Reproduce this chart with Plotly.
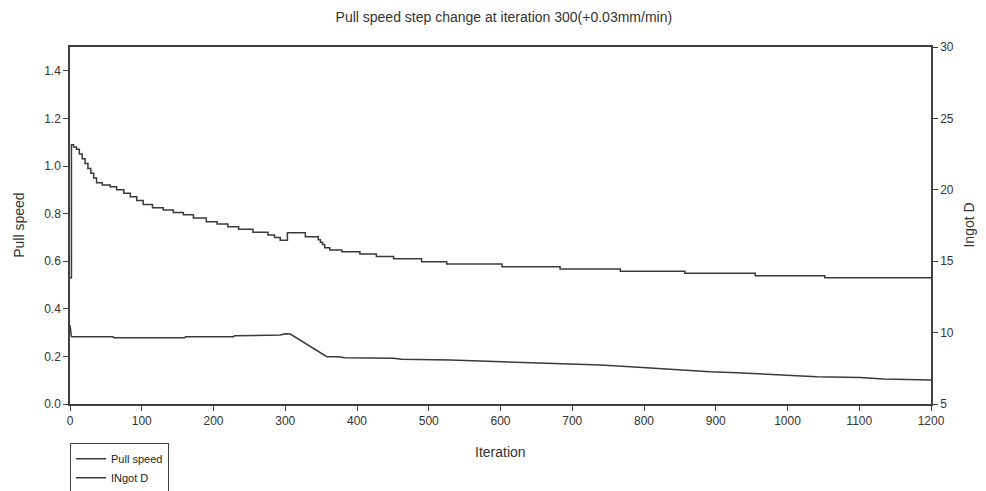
import plotly.graph_objects as go

# Pull speed (left axis), stepwise
pull_iter = [0, 2, 5, 9, 13, 17, 21, 25, 29, 33, 37, 45, 56, 65, 75, 84, 93, 102, 115, 130,
             144, 158, 172, 190, 205, 220, 235, 255, 276, 285, 293, 303, 328, 346, 349, 352,
             355, 362, 379, 404, 427, 451, 490, 525, 602, 683, 767, 857, 955, 1052, 1200]
pull_vals = [0.53, 1.089, 1.08, 1.07, 1.05, 1.03, 1.01, 0.99, 0.97, 0.95, 0.93, 0.92, 0.913,
             0.90, 0.885, 0.871, 0.855, 0.838, 0.825, 0.815, 0.805, 0.795, 0.782, 0.766, 0.756,
             0.745, 0.734, 0.722, 0.71, 0.70, 0.688, 0.72, 0.703, 0.69, 0.68, 0.67, 0.656,
             0.647, 0.64, 0.63, 0.62, 0.61, 0.598, 0.588, 0.577, 0.567, 0.558, 0.549, 0.539,
             0.53, 0.53]

# Ingot D (right axis)
ingot_iter = [0, 2, 60, 61, 160, 161, 228, 229, 293, 300, 307, 358, 374, 383, 451, 462, 530,
              600, 670, 739, 781, 813, 855, 892, 929, 971, 1004, 1041, 1101, 1134, 1200]
ingot_vals = [10.53, 9.71, 9.71, 9.64, 9.64, 9.71, 9.71, 9.78, 9.83, 9.92, 9.90, 8.31, 8.31,
              8.24, 8.20, 8.13, 8.08, 7.97, 7.85, 7.73, 7.61, 7.50, 7.38, 7.26, 7.19, 7.08,
              6.98, 6.91, 6.86, 6.75, 6.68]

x_ticks = list(range(0, 1201, 100))
left_ticks = [0.0, 0.2, 0.4, 0.6, 0.8, 1.0, 1.2, 1.4]
right_ticks = [5, 10, 15, 20, 25, 30]

line_col = "#3a3a3a"
FAM = "Liberation Sans, Arial, sans-serif"
font = dict(family=FAM, size=12, color="#333333")

fig = go.Figure()
fig.add_trace(go.Scatter(x=pull_iter, y=pull_vals, mode="lines", name="Pull speed",
                         line=dict(color=line_col, width=1.5, shape="hv")))
fig.add_trace(go.Scatter(x=ingot_iter, y=ingot_vals, mode="lines", name="INgot D",
                         yaxis="y2", line=dict(color=line_col, width=1.5)))

axis_common = dict(showline=True, linecolor="#404040", linewidth=1.5, ticks="outside",
                   ticklen=5, tickcolor="#404040", showgrid=False, zeroline=False,
                   tickfont=font, automargin=False)

title_font = dict(family=FAM, size=14, color="#333333")

# page body has an 8px default margin, so the figure is sized 978x483
fig.update_layout(
    width=978, height=483,
    margin=dict(l=62, r=55, t=39, b=87, autoexpand=False),
    paper_bgcolor="white", plot_bgcolor="white",
    font=font,
    title=dict(text="Pull speed step change at iteration 300(+0.03mm/min)",
               x=0.507, xanchor="center", y=0.981, yanchor="middle", font=title_font),
    xaxis=dict(range=[0, 1200], tickvals=x_ticks, mirror=True, **axis_common),
    yaxis=dict(range=[0, 1.5], tickvals=left_ticks, tickformat=".1f", **axis_common),
    yaxis2=dict(range=[5, 30], tickvals=right_ticks, overlaying="y", side="right",
                **axis_common),
    legend=dict(x=0, xanchor="left", y=-0.11, yanchor="top", bgcolor="white",
                bordercolor="#404040", borderwidth=1, itemwidth=30,
                font=dict(family=FAM, size=11, color="#222222"),
                tracegroupgap=0),
    showlegend=True,
    annotations=[
        dict(text="Iteration", xref="paper", yref="paper", x=0.5, y=-0.134,
             xanchor="center", yanchor="middle", showarrow=False, font=title_font),
        dict(text="Pull speed", xref="paper", yref="paper", x=-0.060, y=0.50,
             xanchor="center", yanchor="middle", textangle=-90, showarrow=False,
             font=title_font),
        dict(text="Ingot D", xref="paper", yref="paper", x=1.043, y=0.50,
             xanchor="center", yanchor="middle", textangle=-90, showarrow=False,
             font=title_font),
    ],
)

fig.write_html("out.html")
